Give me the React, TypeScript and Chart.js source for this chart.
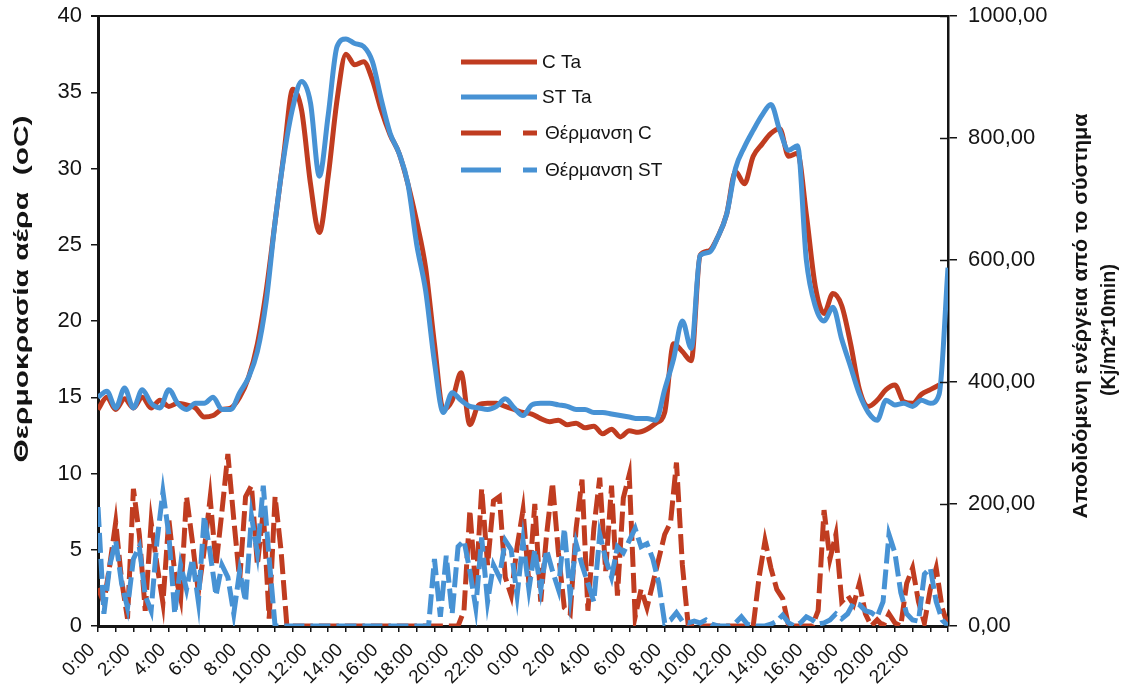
import React, { useEffect, useRef } from 'react';
import { Chart, registerables } from 'chart.js';

Chart.register(...registerables);

// ---- data ----
const timeLabels = [
  '0:00', '2:00', '4:00', '6:00', '8:00', '10:00', '12:00', '14:00', '16:00', '18:00', '20:00', '22:00',
  '0:00', '2:00', '4:00', '6:00', '8:00', '10:00', '12:00', '14:00', '16:00', '18:00', '20:00', '22:00',
];

const seriesNames = ['C Ta', 'ST Ta', 'Θέρμανση C', 'Θέρμανση ST'];
const leftTitle = 'Θερμοκρασία αέρα  (oC)';
const rightTitle = ['Αποδιδόμενη ενέργεια από το σύστημα', '(Kj/m2*10min)'];

// air temperature, every 30 min from 0:00 (hours 0 ... 48)
const cTa = [
  14.2, 15.0, 14.2, 14.9, 14.3, 15.0, 14.3, 14.8, 14.4, 14.6, 14.5, 14.3, 13.7, 13.8, 14.2, 14.3,
  15.0, 16.3, 18.5, 22.0, 26.5, 31.0, 35.2, 33.8, 29.0, 25.8, 29.5, 34.5, 37.5, 36.8, 37.0, 35.8,
  33.8, 32.2, 31.0, 29.0, 26.5, 23.5, 18.5, 14.2, 14.8, 16.6, 13.2, 14.5, 14.6, 14.6, 14.4, 14.2,
  14.0, 13.9, 13.6, 13.4, 13.5, 13.2, 13.3, 13.0, 13.1, 12.6, 12.9, 12.4, 12.8, 12.7, 12.9, 13.3,
  14.0, 18.5, 18.0, 17.4, 24.3, 24.6, 25.5, 27.0, 29.8, 29.0, 30.8, 31.6, 32.3, 32.6, 30.8, 31.0,
  27.0, 22.3, 20.5, 21.8, 21.0, 18.5, 15.5, 14.4, 14.8, 15.5, 15.8, 14.7, 14.6, 15.2, 15.5, 15.8,
];

const stTa = [
  15.0, 15.4, 14.3, 15.6, 14.3, 15.5, 14.6, 14.3, 15.5, 14.6, 14.2, 14.6, 14.6, 15.0, 14.2, 14.2,
  15.3, 16.3, 18.0, 21.3, 26.5, 30.8, 34.0, 35.7, 34.3, 29.5, 33.5, 38.0, 38.5, 38.2, 38.0, 37.0,
  34.5, 32.3, 31.0, 29.0, 25.0, 22.0, 17.3, 14.0, 15.3, 14.8, 14.4, 14.3, 14.2, 14.4, 14.9, 14.3,
  13.8, 14.5, 14.6, 14.6, 14.5, 14.4, 14.2, 14.2, 14.0, 14.0, 13.9, 13.8, 13.7, 13.6, 13.6, 13.5,
  15.5, 17.5, 20.0, 18.2, 24.3, 24.5, 25.5, 27.0, 30.0, 31.4, 32.5, 33.5, 34.2, 32.5, 31.2, 31.5,
  24.0, 21.0, 20.0, 20.9, 18.8, 17.0, 15.2, 14.0, 13.5, 14.8, 14.5, 14.6, 14.4, 14.8, 14.6, 15.2,
  23.5,
];

// heat delivered (kJ/m2 per 10 min), every 20 min from 0:00 (hours 0 ... 48)
const heatC = [
  62, 38, 100, 170, 75, 12, 225, 150, 25, 170, 100, 38, 175, 88, 45, 212, 138, 55, 125, 210,
  100, 188, 282, 175, 75, 212, 230, 100, 188, 12, 212, 125, 0,
  0, 0, 0, 0, 0, 0, 0, 0, 0, 0, 0, 0, 0, 0, 0, 0, 0, 0, 0, 0, 0, 0, 0, 0, 0, 0, 0, 0, 0,
  25, 190, 60, 225, 100, 205, 212, 80, 50, 130, 190, 70, 200, 40, 150, 235, 120, 30, 20, 160,
  240, 25, 160, 243, 90, 230, 50, 210, 248, 15, 60, 30, 70, 110, 150, 170, 268, 100, 0,
  0, 0, 0, 0, 0, 0, 0, 0, 0, 0, 0,
  80, 140, 95, 60, 45, 0,
  0, 0, 0, 0,
  25, 190, 110, 150, 40, 50, 35, 70, 20, 0, 10, 0, 20, 5, 0, 70, 95, 40, 5, 60, 95, 30, 0,
];

const heatST = [
  195, 20, 100, 140, 70, 30, 110, 130, 50, 25, 140, 220, 150, 20, 100, 60, 110, 40, 180, 120,
  50, 100, 80, 20, 90, 40, 180, 120, 230, 110, 0,
  0, 0, 0, 0, 0, 0, 0, 0, 0, 0, 0, 0, 0, 0, 0, 0, 0, 0, 0, 0, 0, 0, 0, 0, 0, 0,
  110, 15, 115, 20, 130, 140, 90, 30, 145, 40, 100, 80, 140, 125, 50, 140, 60, 125, 60, 125,
  90, 60, 160, 50, 135, 100, 70, 40, 150, 110, 80, 130, 120, 140, 160, 130, 135, 110, 70, 5,
  10, 22, 8, 5,
  8, 5, 10, 3, 0, 0, 0, 5, 15, 3, 0, 0, 0, 3, 8, 18, 5, 0, 5, 15, 10, 3, 5, 10, 20, 12, 20,
  38, 35, 25, 22, 15, 40, 150, 120, 55, 20, 10, 8, 85, 95, 40, 10, 0,
];

const TEMP_STEP = 0.5;
const HEAT_STEP = 1 / 3;

const RED = '#c03c20';
const BLUE = '#4792d4';
const INK = '#141414';
const FONT = 'Arial, "Liberation Sans", Helvetica, sans-serif';

const toPoints = (arr: number[], step: number) => arr.map((v, i) => ({ x: i * step, y: v }));

// draws text centred at (cx, cy), rotated bottom-to-top and stretched to a given length
function drawVerticalText(ctx: CanvasRenderingContext2D, text: string, cx: number, cy: number, length: number) {
  const w = ctx.measureText(text).width;
  ctx.save();
  ctx.translate(cx, cy);
  ctx.rotate(-Math.PI / 2);
  ctx.scale(length / w, 1);
  ctx.fillText(text, 0, 0);
  ctx.restore();
}

const decorPlugin = {
  id: 'decor',
  afterDraw(chart: any) {
    const ctx = chart.ctx as CanvasRenderingContext2D;
    const a = chart.chartArea;
    ctx.save();
    // top frame line
    ctx.strokeStyle = INK;
    ctx.lineWidth = 2;
    ctx.beginPath();
    ctx.moveTo(a.left - 7, a.top);
    ctx.lineTo(a.right, a.top);
    ctx.stroke();
    // inner halves of right-axis ticks
    const y1 = chart.scales.y1;
    ctx.lineWidth = 1.5;
    y1.ticks.forEach((t: any) => {
      const py = Math.round(y1.getPixelForValue(t.value)) + 0.5;
      ctx.beginPath();
      ctx.moveTo(a.right - 8, py);
      ctx.lineTo(a.right, py);
      ctx.stroke();
    });

    // axis titles
    ctx.fillStyle = INK;
    ctx.textAlign = 'center';
    ctx.textBaseline = 'middle';
    ctx.font = `bold 21px ${FONT}`;
    drawVerticalText(ctx, leftTitle, 22, 289, 347);

    ctx.font = `bold 20px ${FONT}`;
    drawVerticalText(ctx, rightTitle[0], 1081, 316, 405);
    drawVerticalText(ctx, rightTitle[1], 1109, 330, 132);

    // legend
    const rows = [62, 97, 133, 170];
    const x0 = 461;
    ctx.font = `19px ${FONT}`;
    ctx.textAlign = 'left';
    chart.data.datasets.forEach((ds: any, i: number) => {
      const y = rows[i];
      ctx.strokeStyle = ds.borderColor;
      ctx.lineWidth = 5;
      ctx.lineCap = 'butt';
      ctx.beginPath();
      if (ds.borderDash && ds.borderDash.length) {
        ctx.moveTo(x0, y);
        ctx.lineTo(x0 + 40, y);
        ctx.moveTo(x0 + 62, y);
        ctx.lineTo(x0 + 76, y);
      } else {
        ctx.moveTo(x0, y);
        ctx.lineTo(x0 + 76, y);
      }
      ctx.stroke();
      ctx.fillStyle = INK;
      ctx.fillText(ds.label, ds.borderDash && ds.borderDash.length ? x0 + 84 : x0 + 81, y + 1);
    });
    ctx.restore();
  },
};

export default function App() {
  const ref = useRef<HTMLCanvasElement>(null);

  useEffect(() => {
    const canvas = ref.current;
    if (!canvas) return;
    const chart = new Chart(canvas, {
      type: 'line',
      data: {
        datasets: [
          {
            label: seriesNames[0],
            data: toPoints(cTa, TEMP_STEP),
            yAxisID: 'y',
            borderColor: RED,
            backgroundColor: RED,
            borderWidth: 5,
            pointRadius: 0,
            cubicInterpolationMode: 'monotone',
            order: 2,
          },
          {
            label: seriesNames[1],
            data: toPoints(stTa, TEMP_STEP),
            yAxisID: 'y',
            borderColor: BLUE,
            backgroundColor: BLUE,
            borderWidth: 5,
            pointRadius: 0,
            cubicInterpolationMode: 'monotone',
            order: 1,
          },
          {
            label: seriesNames[2],
            data: toPoints(heatC, HEAT_STEP),
            yAxisID: 'y1',
            borderColor: RED,
            backgroundColor: RED,
            borderWidth: 5,
            borderDash: [20, 6],
            pointRadius: 0,
            tension: 0,
            order: 4,
          },
          {
            label: seriesNames[3],
            data: toPoints(heatST, HEAT_STEP),
            yAxisID: 'y1',
            borderColor: BLUE,
            backgroundColor: BLUE,
            borderWidth: 5,
            borderDash: [20, 6],
            pointRadius: 0,
            tension: 0,
            order: 3,
          },
        ],
      },
      options: {
        responsive: false,
        animation: false,
        events: [],
        layout: { padding: { top: 16, left: 0, right: 0, bottom: 0 } },
        plugins: {
          legend: { display: false },
          tooltip: { enabled: false },
          title: { display: false },
        },
        scales: {
          x: {
            type: 'linear',
            min: 0,
            max: 48,
            ticks: {
              stepSize: 1,
              autoSkip: false,
              maxRotation: 45,
              minRotation: 45,
              color: INK,
              padding: 7,
              labelOffset: -6,
              font: { family: FONT, size: 19 },
              callback: (v: any) => {
                const n = Math.round(Number(v));
                return n % 2 === 0 && n < 48 ? timeLabels[n / 2] : '';
              },
            },
            grid: { drawOnChartArea: false, drawTicks: true, tickLength: 6, color: INK, lineWidth: 1.5 },
            border: { color: INK, width: 3 },
            afterFit: (s: any) => {
              s.height = 69;
              s.paddingLeft = 0;
              s.paddingRight = 0;
            },
          },
          y: {
            type: 'linear',
            position: 'left',
            min: 0,
            max: 40,
            ticks: {
              stepSize: 5,
              color: INK,
              padding: 9,
              font: { family: FONT, size: 22 },
            },
            grid: { drawOnChartArea: false, drawTicks: true, tickLength: 7, color: INK, lineWidth: 1.5 },
            border: { color: INK, width: 3 },
            afterFit: (s: any) => {
              s.width = 98;
              s.paddingTop = 0;
              s.paddingBottom = 0;
            },
          },
          y1: {
            type: 'linear',
            position: 'right',
            min: 0,
            max: 1000,
            ticks: {
              stepSize: 200,
              color: INK,
              padding: 11,
              font: { family: FONT, size: 22 },
              callback: (v: any) => Number(v).toFixed(2).replace('.', ','),
            },
            grid: { drawOnChartArea: false, drawTicks: true, tickLength: 9, color: INK, lineWidth: 1.5 },
            border: { color: INK, width: 2.5 },
            afterFit: (s: any) => {
              s.width = 181;
              s.paddingTop = 0;
              s.paddingBottom = 0;
            },
          },
        },
      },
      plugins: [decorPlugin],
    });
    return () => chart.destroy();
  }, []);

  return (
    <div style={{ position: 'absolute', left: 0, top: 0, width: 1129, height: 695, background: '#ffffff' }}>
      <canvas ref={ref} width={1129} height={695} style={{ display: 'block' }} />
    </div>
  );
}
